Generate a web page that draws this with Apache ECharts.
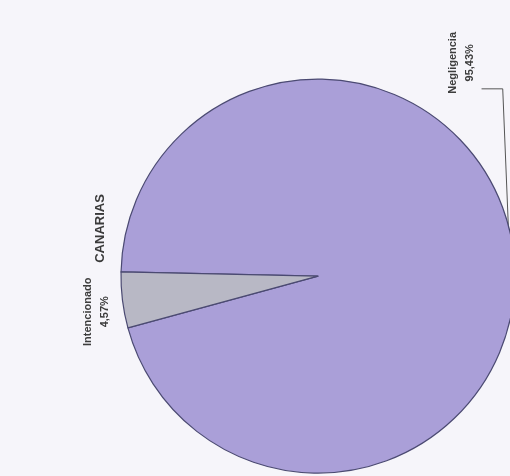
<!DOCTYPE html>
<html>
<head>
<meta charset="utf-8">
<script src="https://cdn.jsdelivr.net/npm/echarts@6/dist/echarts.min.js"></script>
<style>
html,body{margin:0;padding:0;background:#f6f5fa;}
#c{width:510px;height:476px;}
</style>
</head>
<body>
<div id="c"></div>
<script>
const title = 'CANARIAS';
const categories = ['Negligencia', 'Intencionado'];
const values = [95.43, 4.57];
const valueLabels = ['95,43%', '4,57%'];
const colors = ['#aa9fd8', '#b8b8c5'];

const chart = echarts.init(document.getElementById('c'));
const W = 510, H = 476;
const cx = W * 0.6235, cy = H * 0.58, R = 197;
const labelPos = [[W * 0.905, H * 0.132], [W * 0.19, H * 0.655]];

chart.setOption({
  backgroundColor: '#f6f5fa',
  animation: false,
  graphic: [{
    type: 'text',
    x: W * 0.196, y: H * 0.48,
    rotation: Math.PI / 2,
    style: {
      text: title, fill: '#3a3a3a',
      font: 'bold 13px "Liberation Sans", Arial, sans-serif',
      align: 'center', verticalAlign: 'middle'
    }
  }],
  series: [{
    type: 'pie',
    center: [cx, cy],
    radius: R,
    startAngle: 178.8,
    clockwise: true,
    data: categories.map((c, i) => ({
      name: c, value: values[i],
      itemStyle: { color: colors[i] },
      labelLine: { show: i === 0 }
    })),
    itemStyle: { borderColor: '#4b4a72', borderWidth: 1.2 },
    label: {
      show: true,
      position: 'outside',
      rotate: 90,
      formatter: p => p.name + '\n' + valueLabels[p.dataIndex],
      fontFamily: '"Liberation Sans", Arial, sans-serif',
      fontSize: 11,
      fontWeight: 'bold',
      lineHeight: 17,
      color: '#3d3d3d'
    },
    labelLine: { lineStyle: { color: '#555', width: 1 } },
    labelLayout: function (p) {
      const pos = labelPos[p.dataIndex];
      const res = { x: pos[0], y: pos[1], align: 'center', verticalAlign: 'middle', rotate: 90 };
      if (p.dataIndex === 0) {
        const a = 12 * Math.PI / 180;
        const p0 = [cx + (R - 2) * Math.cos(a), cy - (R - 2) * Math.sin(a)];
        const yTop = pos[1] + 26;
        res.labelLinePoints = [p0, [p0[0] - 6, yTop], [pos[0] + 20, yTop]];
      }
      return res;
    },
    emphasis: { disabled: true }
  }]
});
</script>
</body>
</html>
